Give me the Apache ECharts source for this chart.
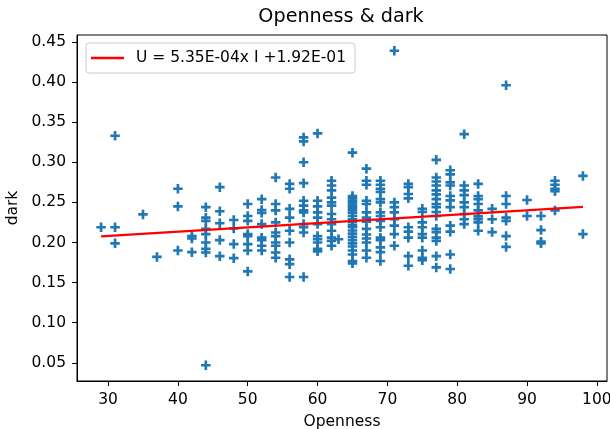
<!DOCTYPE html>
<html>
<head>
<meta charset="utf-8">
<script src="https://cdn.jsdelivr.net/npm/echarts@6/dist/echarts.min.js"></script>
<style>
html,body{margin:0;padding:0;background:#fff;}
#chart{width:610px;height:429px;}
</style>
</head>
<body>
<div id="chart"></div>
<script>
const chartTitle = 'Openness & dark';
const xName = 'Openness';
const yName = 'dark';
const fitLabel = 'U = 5.35E-04x I +1.92E-01';
const fitSlope = 5.35e-4;
const fitIntercept = 1.92e-1;

const xTicks = [30, 40, 50, 60, 70, 80, 90, 100];
const yTicks = [0.05, 0.10, 0.15, 0.20, 0.25, 0.30, 0.35, 0.40, 0.45];

const opennessLevels = [29, 31, 35, 37, 40, 42, 44, 46, 48, 50,
  52, 54, 56, 58, 60, 62, 63, 65, 67, 69,
  71, 73, 75, 77, 79, 81, 83, 85, 87, 90,
  92, 94, 98];

const darkByLevel = [
  [0.219],
  [0.333, 0.219, 0.199],
  [0.235],
  [0.182],
  [0.267, 0.245, 0.190],
  [0.208, 0.205, 0.188],
  [0.244, 0.231, 0.227, 0.217, 0.2105, 0.200, 0.192, 0.1875, 0.047],
  [0.269, 0.239, 0.224, 0.203, 0.183],
  [0.228, 0.2175, 0.198, 0.1805],
  [0.248, 0.233, 0.227, 0.2105, 0.208, 0.198, 0.190, 0.164],
  [0.254, 0.2405, 0.237, 0.223, 0.206, 0.203, 0.196, 0.190],
  [0.281, 0.248, 0.240, 0.225, 0.2125, 0.208, 0.200, 0.196, 0.1875, 0.181],
  [0.273, 0.267, 0.242, 0.231, 0.2146, 0.200, 0.179, 0.173, 0.157],
  [0.331, 0.326, 0.300, 0.274, 0.252, 0.246, 0.240, 0.2375, 0.223, 0.219, 0.2125, 0.157],
  [0.336, 0.252, 0.245, 0.2375, 0.231, 0.223, 0.208, 0.204, 0.200, 0.192, 0.189],
  [0.277, 0.271, 0.265, 0.256, 0.250, 0.246, 0.2355, 0.229, 0.223, 0.2146, 0.206, 0.202, 0.196],
  [0.204],
  [0.312, 0.258, 0.255, 0.252, 0.249, 0.246, 0.243, 0.240, 0.237, 0.233, 0.229, 0.226, 0.222, 0.219, 0.215, 0.211, 0.207, 0.203, 0.199, 0.195, 0.190, 0.185, 0.177, 0.174],
  [0.292, 0.277, 0.272, 0.252, 0.248, 0.2375, 0.231, 0.226, 0.217, 0.210, 0.205, 0.200, 0.190, 0.181],
  [0.277, 0.272, 0.267, 0.263, 0.254, 0.250, 0.2375, 0.233, 0.227, 0.219, 0.206, 0.203, 0.194, 0.188, 0.177],
  [0.439, 0.250, 0.244, 0.2375, 0.229, 0.221, 0.2105, 0.196],
  [0.273, 0.269, 0.2605, 0.255, 0.219, 0.2135, 0.206, 0.183, 0.171],
  [0.242, 0.238, 0.225, 0.219, 0.2105, 0.206, 0.190, 0.181, 0.178],
  [0.303, 0.281, 0.276, 0.271, 0.265, 0.260, 0.254, 0.248, 0.244, 0.238, 0.233, 0.217, 0.213, 0.206, 0.202, 0.183, 0.169],
  [0.290, 0.285, 0.275, 0.271, 0.258, 0.2525, 0.244, 0.221, 0.2135, 0.185, 0.167],
  [0.335, 0.271, 0.265, 0.259, 0.250, 0.244, 0.2355, 0.229, 0.223],
  [0.273, 0.258, 0.254, 0.248, 0.240, 0.2325, 0.229, 0.225, 0.2146],
  [0.242, 0.229, 0.213],
  [0.396, 0.258, 0.248, 0.231, 0.227, 0.208, 0.1945],
  [0.253, 0.233],
  [0.233, 0.2155, 0.201, 0.199],
  [0.277, 0.272, 0.267, 0.264, 0.240],
  [0.283, 0.2105]
];

// build points
const points = [];
opennessLevels.forEach((x, i) => darkByLevel[i].forEach(y => points.push([x, y])));
const xs = points.map(p => p[0]);
const ys = points.map(p => p[1]);
const xMinD = Math.min(...xs), xMaxD = Math.max(...xs);
const yMinD = Math.min(...ys), yMaxD = Math.max(...ys);
const xPad = (xMaxD - xMinD) * 0.05, yPad = (yMaxD - yMinD) * 0.05;
const fitLine = [xMinD, xMaxD].map(x => [x, fitSlope * x + fitIntercept]);

const FONT = 'DejaVu Sans';
const plusPath = 'path://M3.6,0H6.4V3.6H10V6.4H6.4V10H3.6V6.4H0V3.6H3.6Z';

const chart = echarts.init(document.getElementById('chart'), null, {renderer: 'canvas'});
chart.setOption({
  animation: false,
  backgroundColor: '#fff',
  title: {
    text: chartTitle,
    left: 341, top: 8, padding: 0,
    textAlign: 'center',
    textStyle: {fontFamily: FONT, fontSize: 19.2, fontWeight: 'normal', color: '#000'}
  },
  legend: {
    data: [fitLabel],
    left: 86, top: 43,
    padding: [7, 9, 7, 5],
    borderColor: '#cccccc', borderWidth: 1, borderRadius: 3,
    backgroundColor: 'rgba(255,255,255,0.8)',
    icon: 'rect', itemWidth: 33, itemHeight: 2.5,
    textStyle: {fontFamily: FONT, fontSize: 15.5, color: '#000', padding: [0, 0, 0, 7]}
  },
  grid: {left: 77, top: 35, width: 530, height: 346, show: true, borderColor: '#000', borderWidth: 1,
    containLabel: false, outerBoundsMode: 'none'},
  xAxis: {
    type: 'value',
    min: xMinD - xPad, max: xMaxD + xPad,
    name: xName, nameLocation: 'middle', nameGap: 33,
    nameTextStyle: {fontFamily: FONT, fontSize: 15.5, color: '#000'},
    axisLine: {show: true, lineStyle: {color: '#000', width: 1}},
    axisTick: {show: true, length: 5, customValues: xTicks, lineStyle: {color: '#000'}},
    axisLabel: {customValues: xTicks, margin: 11, fontFamily: FONT, fontSize: 15.5, color: '#000', formatter: v => String(v)},
    splitLine: {show: false}
  },
  yAxis: {
    type: 'value',
    min: yMinD - yPad, max: yMaxD + yPad,
    name: yName, nameLocation: 'middle', nameGap: 51,
    nameTextStyle: {fontFamily: FONT, fontSize: 15.5, color: '#000'},
    axisLine: {show: true, lineStyle: {color: '#000', width: 1}},
    axisTick: {show: true, length: 5, customValues: yTicks, lineStyle: {color: '#000'}},
    axisLabel: {customValues: yTicks, margin: 11, fontFamily: FONT, fontSize: 15.5, color: '#000', formatter: v => v.toFixed(2)},
    splitLine: {show: false}
  },
  series: [
    {
      type: 'scatter',
      data: points,
      symbol: plusPath,
      symbolSize: 9.5,
      itemStyle: {color: '#1f77b4', opacity: 1},
      z: 2
    },
    {
      name: fitLabel,
      type: 'line',
      data: fitLine,
      symbol: 'none',
      lineStyle: {color: '#ff0000', width: 2.3},
      itemStyle: {color: '#ff0000'},
      z: 3
    }
  ]
});
</script>
</body>
</html>
